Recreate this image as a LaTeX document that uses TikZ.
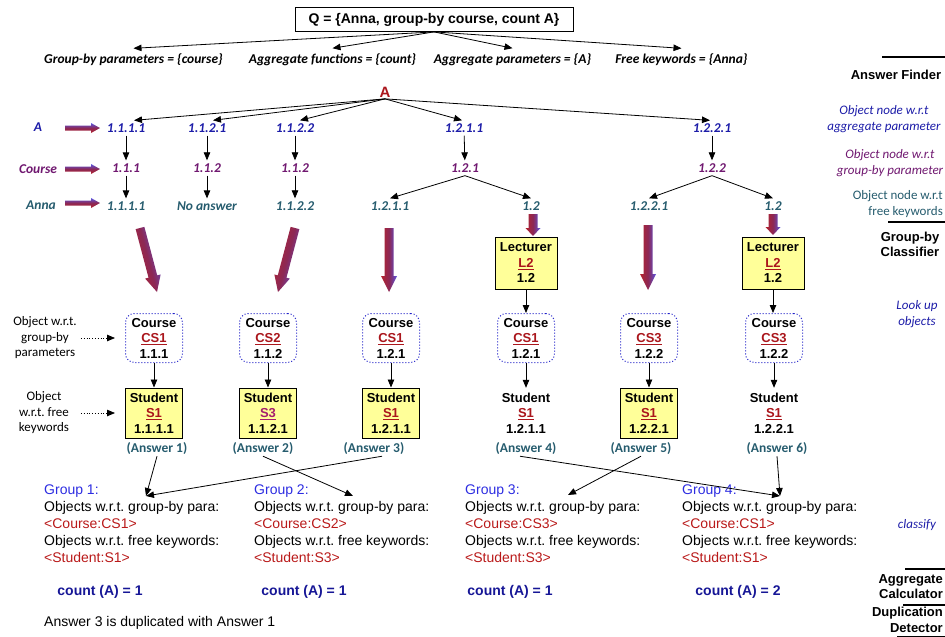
\documentclass[tikz,border=0pt]{standalone}
\usepackage{fontspec}
\setmainfont{Liberation Sans}
\newfontfamily\carlito{Carlito}
\usetikzlibrary{arrows.meta,calc}
\frenchspacing

\definecolor{treeblue}{RGB}{28,28,168}
\definecolor{treepurple}{RGB}{112,24,112}
\definecolor{treeteal}{RGB}{38,92,110}
\definecolor{objred}{RGB}{170,22,28}
\definecolor{objmag}{RGB}{165,30,110}
\definecolor{grpblue}{RGB}{45,45,225}
\definecolor{grpred}{RGB}{185,25,25}
\definecolor{cntblue}{RGB}{22,22,150}
\definecolor{boxyellow}{RGB}{255,255,153}
\definecolor{dotblue}{RGB}{30,30,200}
\definecolor{fatred}{RGB}{180,35,45}
\definecolor{fatmid}{RGB}{140,40,85}
\definecolor{fatblue}{RGB}{90,85,225}

% underlined, coloured object identifier
\newcommand\obj[2]{\textcolor{#1}{\underline{#2}}}

\tikzset{
  conn/.style={-{Triangle[length=8pt,width=6.5pt]}, line width=0.8pt},
  dotconn/.style={conn, dotted},
  qbox/.style={draw, line width=0.8pt, minimum width=278pt, minimum height=24pt,
    inner sep=0pt, font=\bfseries\fontsize{14}{16}\selectfont},
  param/.style={inner sep=2pt, font=\carlito\bfseries\itshape\fontsize{13.5}{16}\selectfont},
  tlab/.style={inner sep=3pt, font=\carlito\bfseries\itshape\fontsize{13.5}{16}\selectfont},
  aggnode/.style={tlab, text=treeblue},
  grpnode/.style={tlab, text=treepurple},
  kwnode/.style={tlab, text=treeteal},
  objtext/.style={font=\bfseries\fontsize{13}{15.5}\selectfont, align=center,
    inner sep=0pt, minimum width=57pt},
  coursebox/.style={objtext, draw=dotblue, dotted, line width=1pt,
    rounded corners=9pt, minimum height=49pt},
  studbox/.style={objtext, draw, fill=boxyellow, line width=1pt, minimum height=50pt},
  studplain/.style={objtext, minimum height=50pt},
  lectbox/.style={objtext, draw, fill=boxyellow, line width=1pt,
    minimum width=62pt, minimum height=52pt},
  anslab/.style={inner sep=1pt, text=treeteal,
    font=\carlito\bfseries\fontsize{13.5}{16}\selectfont},
  sidelab/.style={inner sep=0pt, align=center, font=\carlito\fontsize{13}{15.5}\selectfont},
  grptext/.style={anchor=north west, inner sep=0pt, align=left,
    font=\fontsize{14}{17}\selectfont},
  cntlab/.style={text=cntblue, font=\bfseries\fontsize{14}{16}\selectfont},
  panelbold/.style={inner sep=0pt, align=center, font=\bfseries\fontsize{13}{15.5}\selectfont},
  panelit/.style={inner sep=0pt, align=center, font=\carlito\itshape\fontsize{13}{15.5}\selectfont},
  panelup/.style={inner sep=0pt, font=\carlito\fontsize{13}{15.5}\selectfont},
  panelrule/.style={line width=1.2pt},
  fatarrow/.style={top color=fatblue, bottom color=fatred, middle color=fatmid},
}

% broad shaded arrow: from, to, shaft half width, head half width, head length
\newcommand\fatarrow[5]{%
  \path let \p1=(#1), \p2=(#2),
      \n1={atan2(\y2-\y1,\x2-\x1)}, \n2={veclen(\x2-\x1,\y2-\y1)}
    in \pgfextra{\xdef\fatang{\n1}\xdef\fatlen{\n2}};
  \shade[fatarrow, shading angle=\fatang]
    ($(#1)+({\fatang+90}:#3)$)
    -- ($(#1)+(\fatang:{\fatlen*1pt-#5})+({\fatang+90}:#3)$)
    -- ($(#1)+(\fatang:{\fatlen*1pt-#5})+({\fatang+90}:#4)$)
    -- (#2)
    -- ($(#1)+(\fatang:{\fatlen*1pt-#5})+({\fatang-90}:#4)$)
    -- ($(#1)+(\fatang:{\fatlen*1pt-#5})+({\fatang-90}:#3)$)
    -- ($(#1)+({\fatang-90}:#3)$) -- cycle;
}

\begin{document}
\begin{tikzpicture}[x=1pt,y=-1pt]
\useasboundingbox (0,0) rectangle (945,637);
\clip (0,0) rectangle (945,637);

% ---- query and its parsed parts
\node[qbox] (Q) at (434,19.5) {Q = \{Anna, group-by course, count A\}};
\node[param] (p1) at (133.5,60) {Group-by parameters = \{course\}};
\node[param] (p2) at (332.5,60) {Aggregate functions = \{count\}};
\node[param] (p3) at (512.5,60) {Aggregate parameters = \{A\}};
\node[param] (p4) at (681.5,60) {Free keywords = \{Anna\}};
\foreach \p in {p1,p2,p3,p4}
  \draw[conn] (Q.south) -- ([yshift=3.5pt]\p.north);

% ---- object tree for the aggregate parameter
\node[inner sep=1pt, text=objred, font=\bfseries\fontsize{15}{17}\selectfont] (A) at (385,92.5) {A};

\node[aggnode] (rA) at (38,127) {A};
\node[grpnode] (rC) at (38,169) {Course};
\node[kwnode]  (rN) at (41,205) {Anna};

\node[aggnode] (t1a) at (126,128) {1.1.1.1};
\node[aggnode] (t1b) at (207,128) {1.1.2.1};
\node[aggnode] (t1c) at (295,128) {1.1.2.2};
\node[aggnode] (t1d) at (464,128) {1.2.1.1};
\node[aggnode] (t1e) at (712,128) {1.2.2.1};

\node[grpnode] (t2a) at (126,168) {1.1.1};
\node[grpnode] (t2b) at (207,168) {1.1.2};
\node[grpnode] (t2c) at (295,168) {1.1.2};
\node[grpnode] (t2d) at (465,168) {1.2.1};
\node[grpnode] (t2e) at (712,168) {1.2.2};

\node[kwnode] (t3a) at (126,206) {1.1.1.1};
\node[kwnode] (t3b) at (207,206) {No answer};
\node[kwnode] (t3c) at (295,206) {1.1.2.2};
\node[kwnode] (t3d) at (390,206) {1.2.1.1};
\node[kwnode] (t3e) at (531,206) {1.2};
\node[kwnode] (t3f) at (649,206) {1.2.2.1};
\node[kwnode] (t3g) at (773,206) {1.2};

\draw[conn] (A.south) -- ([xshift=8pt]t1a.north);
\draw[conn] (A.south) -- ([xshift=6pt]t1b.north);
\draw[conn] (A.south) -- ([xshift=5pt]t1c.north);
\draw[conn] (A.south) -- ([xshift=-2pt]t1d.north);
\draw[conn] (A.south) -- ([xshift=-2pt]t1e.north);

\draw[conn] (t1a) -- (t2a);  \draw[conn] (t2a) -- (t3a);
\draw[conn] (t1b) -- (t2b);  \draw[conn] (t2b) -- (t3b);
\draw[conn] (t1c) -- (t2c);  \draw[conn] (t2c) -- (t3c);
\draw[conn] (t1d) -- (t2d);
\draw[conn] (t2d.south) -- (t3d.north);
\draw[conn] (t2d.south) -- (t3e.north);
\draw[conn] (t1e) -- (t2e);
\draw[conn] (t2e.south) -- (t3f.north);
\draw[conn] (t2e.south) -- (t3g.north);

% ---- broad arrows marking the levels and the look-ups
\coordinate (la1) at (65,128);  \coordinate (la2) at (100,128);
\coordinate (lb1) at (65,169);  \coordinate (lb2) at (100,169);
\coordinate (lc1) at (65,203);  \coordinate (lc2) at (100,203);
\fatarrow{la1}{la2}{2.5pt}{5pt}{9pt}
\fatarrow{lb1}{lb2}{2.5pt}{5pt}{9pt}
\fatarrow{lc1}{lc2}{2.5pt}{5pt}{9pt}

\coordinate (f1s) at (140,228); \coordinate (f1e) at (157,292);
\coordinate (f2s) at (295,228); \coordinate (f2e) at (278,292);
\coordinate (f3s) at (389,228); \coordinate (f3e) at (389,292);
\coordinate (f4s) at (533,214); \coordinate (f4e) at (533,236);
\coordinate (f5s) at (648,225); \coordinate (f5e) at (648,290);
\coordinate (f6s) at (773,214); \coordinate (f6e) at (773,235);
\fatarrow{f1s}{f1e}{4.5pt}{8pt}{16pt}
\fatarrow{f2s}{f2e}{4.5pt}{8pt}{16pt}
\fatarrow{f3s}{f3e}{4.5pt}{8pt}{16pt}
\fatarrow{f4s}{f4e}{4.5pt}{7.5pt}{8pt}
\fatarrow{f5s}{f5e}{4.5pt}{8pt}{16pt}
\fatarrow{f6s}{f6e}{4.5pt}{7.5pt}{8pt}

% ---- looked-up objects
\node[lectbox] (lec1) at (526,263) {Lecturer\\\obj{objred}{L2}\\1.2};
\node[lectbox] (lec2) at (773,263) {Lecturer\\\obj{objred}{L2}\\1.2};

\node[coursebox] (cb1) at (154,338) {Course\\\obj{objred}{CS1}\\1.1.1};
\node[coursebox] (cb2) at (268,338) {Course\\\obj{objred}{CS2}\\1.1.2};
\node[coursebox] (cb3) at (391,338) {Course\\\obj{objred}{CS1}\\1.2.1};
\node[coursebox] (cb4) at (526,338) {Course\\\obj{objred}{CS1}\\1.2.1};
\node[coursebox] (cb5) at (649,338) {Course\\\obj{objred}{CS3}\\1.2.2};
\node[coursebox] (cb6) at (774,338) {Course\\\obj{objred}{CS3}\\1.2.2};

\node[studbox]   (s1) at (154,413) {Student\\\obj{objred}{S1}\\1.1.1.1};
\node[studbox]   (s2) at (268,413) {Student\\\obj{objmag}{S3}\\1.1.2.1};
\node[studbox]   (s3) at (391,413) {Student\\\obj{objred}{S1}\\1.2.1.1};
\node[studplain] (s4) at (526,413) {Student\\\obj{objred}{S1}\\1.2.1.1};
\node[studbox]   (s5) at (649,413) {Student\\\obj{objred}{S1}\\1.2.2.1};
\node[studplain] (s6) at (774,413) {Student\\\obj{objred}{S1}\\1.2.2.1};

\draw[conn] (lec1.south) -- (cb4.north);
\draw[conn] (lec2.south) -- (lec2.south |- cb6.north);
\foreach \i in {1,...,6}
  \draw[conn] (cb\i.south) -- (s\i.north);

\node[anslab] (ans1) at (157,449) {(Answer 1)};
\node[anslab] (ans2) at (263,449) {(Answer 2)};
\node[anslab] (ans3) at (374,449) {(Answer 3)};
\node[anslab] (ans4) at (526,449) {(Answer 4)};
\node[anslab] (ans5) at (641,449) {(Answer 5)};
\node[anslab] (ans6) at (777,449) {(Answer 6)};

% ---- row captions on the left
\node[sidelab] (lgb) at (45,338) {Object w.r.t.\\group-by\\parameters};
\node[sidelab] (lkw) at (44,413) {Object\\w.r.t. free\\keywords};
\draw[dotconn] ([xshift=4pt]lgb.east) -- ([xshift=-10pt]cb1.west);
\draw[dotconn] ([xshift=4pt]lgb.east |- s1.west) -- ([xshift=-10pt]s1.west);

% ---- groups
\node[grptext] (g1) at (44,485) {\textcolor{grpblue}{Group 1:}\\Objects w.r.t. group-by para:\\
  \textcolor{grpred}{<Course:CS1>}\\Objects w.r.t. free keywords:\\\textcolor{grpred}{<Student:S1>}};
\node[grptext] (g2) at (254,485) {\textcolor{grpblue}{Group 2:}\\Objects w.r.t. group-by para:\\
  \textcolor{grpred}{<Course:CS2>}\\Objects w.r.t. free keywords:\\\textcolor{grpred}{<Student:S3>}};
\node[grptext] (g3) at (465,485) {\textcolor{grpblue}{Group 3:}\\Objects w.r.t. group-by para:\\
  \textcolor{grpred}{<Course:CS3>}\\Objects w.r.t. free keywords:\\\textcolor{grpred}{<Student:S3>}};
\node[grptext] (g4) at (682,485) {\textcolor{grpblue}{Group 4:}\\Objects w.r.t. group-by para:\\
  \textcolor{grpred}{<Course:CS1>}\\Objects w.r.t. free keywords:\\\textcolor{grpred}{<Student:S1>}};

\coordinate (g1in) at (146,496);
\coordinate (g2in) at (353,496);
\coordinate (g3in) at (568,495);
\coordinate (g4in) at (780,496);
\draw[conn] (ans1.south) -- (g1in);
\draw[conn] ([xshift=8pt]ans3.south) -- (g1in);
\draw[conn] (ans2.south) -- (g2in);
\draw[conn] ([xshift=-6pt]ans4.south) -- (g4in);
\draw[conn] (ans5.south) -- (g3in);
\draw[conn] (ans6.south) -- (g4in);

\node[cntlab] (c1) at (100,592) {count (A) = 1};
\node[cntlab] (c2) at (304,592) {count (A) = 1};
\node[cntlab] (c3) at (510,592) {count (A) = 1};
\node[cntlab] (c4) at (738,592) {count (A) = 2};

\node[anchor=west, inner sep=0pt, font=\fontsize{14}{17}\selectfont] (dup) at (44,623)
  {Answer 3 is duplicated with Answer 1};

% ---- module legend on the right
\draw[panelrule] (882,57) -- (945,57);
\node[panelbold] (pf) at (896,75) {Answer Finder};
\node[panelit, text=treeblue] (pa) at (884,119) {Object node w.r.t\\aggregate parameter};
\node[panelit, text=treepurple] (pg) at (890,163) {Object node w.r.t\\group-by parameter};
\node[panelup, text=treeteal, anchor=east] (pk1) at (943,196) {Object node w.r.t};
\node[panelup, text=treeteal, anchor=east] (pk2) at (943,212) {free keywords};
\draw[panelrule] (888,222) -- (945,222);
\node[panelbold] (pc) at (910,244.5) {Group-by\\Classifier};
\node[panelit, text=treeblue] (pl) at (917,314) {Look up\\objects};
\node[panelit, text=treeblue] (pcl) at (917,525) {classify};
\draw[panelrule] (905,569) -- (945,569);
\node[panelbold, align=right, anchor=east] (pagg) at (943,586.5) {Aggregate\\Calculator};
\node[panelbold, align=right, anchor=east] (pdup) at (943,620) {Duplication\\Detector};
\draw[panelrule] (903,605) -- (945,605);
\draw[line width=0.8pt] (897,636.5) -- (945,636.5);
\end{tikzpicture}
\end{document}
